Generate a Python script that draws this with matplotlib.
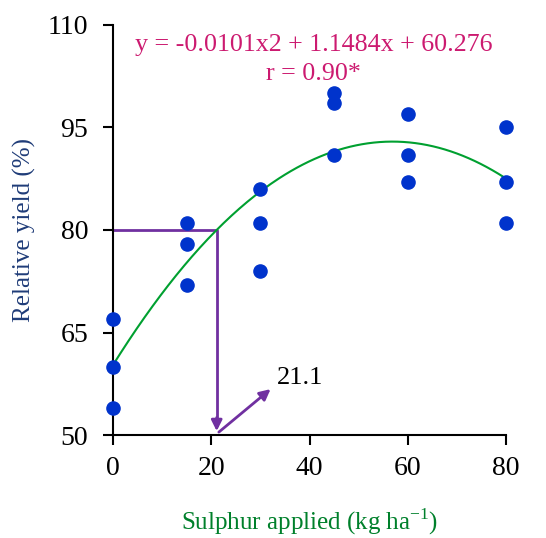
import numpy as np
import matplotlib
matplotlib.use('Agg')
import matplotlib.pyplot as plt

# observed relative yields
sulphur = [0, 0, 0, 15, 15, 15, 30, 30, 30, 45, 45, 45, 60, 60, 60, 80, 80, 80]
rel_yield = [67, 60, 54, 81, 78, 72, 86, 81, 74, 100, 98.5, 91, 97, 91, 87, 95, 87, 81]

# quadratic fit printed on the chart
coef = [-0.0101, 1.1484, 60.276]
target_yield = 80
optimum_s = 21.1

xticks = [0, 20, 40, 60, 80]
yticks = [50, 65, 80, 95, 110]

plt.rcParams['font.family'] = ['Liberation Serif', 'DejaVu Serif']

fig = plt.figure(figsize=(5.46, 5.38), dpi=100)
ax = fig.add_axes([0.207, 0.191, 0.72, 0.763])

xs = np.linspace(0, 80, 200)
ax.plot(xs, np.polyval(coef, xs), color='#00a030', lw=1.5, zorder=2)
ax.scatter(sulphur, rel_yield, s=90, color='#0033cc', zorder=3, clip_on=False)

purple = '#7030a0'
ax.plot([0, optimum_s, optimum_s], [target_yield, target_yield, 51.5],
        color=purple, lw=2, zorder=1, clip_on=False)
ax.annotate('', xy=(optimum_s, 50.2), xytext=(optimum_s, 53),
            arrowprops=dict(arrowstyle='-|>', color=purple, lw=2, mutation_scale=16))
ax.annotate('', xy=(32.5, 57), xytext=(optimum_s, 50.2),
            arrowprops=dict(arrowstyle='-|>', color=purple, lw=2, mutation_scale=16))
ax.text(33.3, 58.3, str(optimum_s), fontsize=19, color='black', va='center', ha='left')

ax.text(40.8, 107.0, 'y = -0.0101x2 + 1.1484x + 60.276', fontsize=18.7,
        color='#cc1a70', ha='center', va='center')
ax.text(40.8, 102.8, 'r = 0.90*', fontsize=18.7, color='#cc1a70', ha='center', va='center')

ax.set_xlim(0, 80)
ax.set_ylim(50, 110)
ax.set_xticks(xticks)
ax.set_yticks(yticks)
ax.tick_params(labelsize=20, width=1.5, length=7, direction='out', colors='black')
ax.tick_params(axis='x', pad=8)
ax.tick_params(axis='y', pad=11)
for side in ['top', 'right']:
    ax.spines[side].set_visible(False)
for side in ['left', 'bottom']:
    ax.spines[side].set_linewidth(1.5)

ax.set_ylabel('Relative yield (%)', fontsize=18, color='#1f3c78', labelpad=8)
ax.set_xlabel('Sulphur applied (kg ha$^{\\mathregular{-1}}$)', fontsize=18,
              color='#00802b', labelpad=18)

fig.savefig('out.png', dpi=100)
